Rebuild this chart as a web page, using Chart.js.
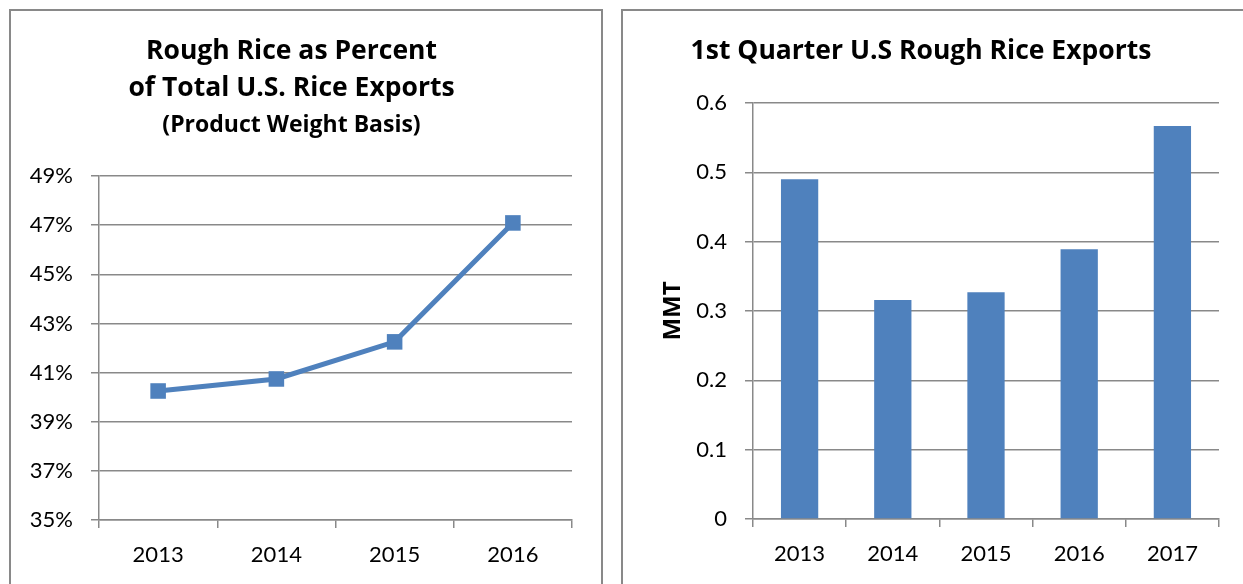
<!DOCTYPE html>
<html>
<head>
<meta charset="utf-8">
<script src="https://cdn.jsdelivr.net/npm/chart.js@4.4.1/dist/chart.umd.min.js"></script>
<style>
  body { margin: 0; background: #fff; width: 1243px; height: 584px; overflow: hidden; position: relative; }
  .panel { position: absolute; border: 2px solid #898989; }
  canvas { position: absolute; }
</style>
</head>
<body>
<div class="panel" style="left:9px;top:9px;width:590px;height:600px;"></div>
<div class="panel" style="left:621px;top:9px;width:640px;height:600px;"></div>
<canvas id="pctChart" style="left:11px;top:11px;width:590px;height:573px;"></canvas>
<canvas id="qtrChart" style="left:623px;top:11px;width:620px;height:573px;"></canvas>
<script>
// left chart: rough rice share of total exports
var pctYears = ['2013', '2014', '2015', '2016'];
var pctValues = [40.25, 40.74, 42.25, 47.09];

// right chart: 1st quarter rough rice exports, MMT
var qtrYears = ['2013', '2014', '2015', '2016', '2017'];
var qtrValues = [0.490, 0.316, 0.327, 0.389, 0.567];

var blue = '#4F81BD';
var gridGray = '#898989';
var titleFont = '"Open Sans"';

Chart.defaults.font.family = 'Lato';
Chart.defaults.color = '#000';
Chart.defaults.animation = false;

var ctxL = document.getElementById('pctChart').getContext('2d');
var pctChart = new Chart(ctxL, {
  type: 'line',
  data: {
    labels: pctYears,
    datasets: [{
      data: pctValues,
      borderColor: blue,
      backgroundColor: blue,
      borderWidth: 5,
      tension: 0,
      pointStyle: 'rect',
      pointRadius: 11,
      pointHoverRadius: 11,
      pointBorderWidth: 0
    }]
  },
  options: {
    responsive: false,
    maintainAspectRatio: false,
    layout: { padding: { left: 0, right: 29, top: 0, bottom: 0 } },
    plugins: {
      legend: { display: false },
      tooltip: { enabled: false },
      title: {
        display: true,
        text: ['Rough Rice as Percent', 'of Total U.S. Rice Exports'],
        font: { family: titleFont, size: 26.5, weight: 'bold', lineHeight: '37px' },
        color: '#000',
        padding: { top: 21.5, bottom: 0 }
      },
      subtitle: {
        display: true,
        text: '(Product Weight Basis)',
        font: { family: titleFont, size: 23, weight: 'bold', lineHeight: 1.2 },
        color: '#000',
        padding: { top: 4.7, bottom: 37.2 }
      }
    },
    scales: {
      x: {
        offset: true,
        grid: { offset: true, drawOnChartArea: false, drawTicks: true, tickLength: 8, color: gridGray, lineWidth: 1.5 },
        border: { color: gridGray, width: 1.5 },
        ticks: { padding: 14, font: { size: 22 }, color: '#000' },
        afterFit: function(scale) { scale.height = 64; }
      },
      y: {
        min: 35,
        max: 49,
        grid: { color: gridGray, lineWidth: 1.5, tickLength: 8 },
        border: { color: gridGray, width: 1.5 },
        ticks: {
          stepSize: 2,
          padding: 18,
          font: { size: 22 },
          color: '#000',
          callback: function(v) { return v + '%'; }
        },
        afterFit: function(scale) { scale.width = 88; }
      }
    }
  }
});

var ctxR = document.getElementById('qtrChart').getContext('2d');
var qtrChart = new Chart(ctxR, {
  type: 'bar',
  data: {
    labels: qtrYears,
    datasets: [{
      data: qtrValues,
      backgroundColor: blue,
      borderWidth: 0,
      barPercentage: 0.4,
      categoryPercentage: 1.0
    }]
  },
  options: {
    responsive: false,
    maintainAspectRatio: false,
    layout: { padding: { left: 0, right: 24, top: 0, bottom: 0 } },
    plugins: {
      legend: { display: false },
      tooltip: { enabled: false },
      title: {
        display: true,
        text: '1st Quarter U.S Rough Rice Exports',
        font: { family: titleFont, size: 26.5, weight: 'bold', lineHeight: '37px' },
        color: '#000',
        padding: { top: 21.5, bottom: 33.5 }
      }
    },
    scales: {
      x: {
        grid: { offset: true, drawOnChartArea: false, drawTicks: true, tickLength: 8, color: gridGray, lineWidth: 1.5 },
        border: { color: gridGray, width: 1.5 },
        ticks: { padding: 14, font: { size: 22 }, color: '#000' },
        afterFit: function(scale) { scale.height = 65; }
      },
      y: {
        min: 0,
        max: 0.6,
        grid: { color: gridGray, lineWidth: 1.5, tickLength: 8 },
        border: { color: gridGray, width: 1.5 },
        title: {
          display: true,
          text: 'MMT',
          font: { family: titleFont, size: 24, weight: 'bold', lineHeight: 1.2 },
          color: '#000',
          padding: { top: 35.6, bottom: 0 }
        },
        ticks: {
          stepSize: 0.1,
          padding: 18,
          font: { size: 22 },
          color: '#000',
          callback: function(v) { return v === 0 ? '0' : v.toFixed(1); }
        },
        afterFit: function(scale) { scale.width = 130; }
      }
    }
  }
});
</script>
</body>
</html>
